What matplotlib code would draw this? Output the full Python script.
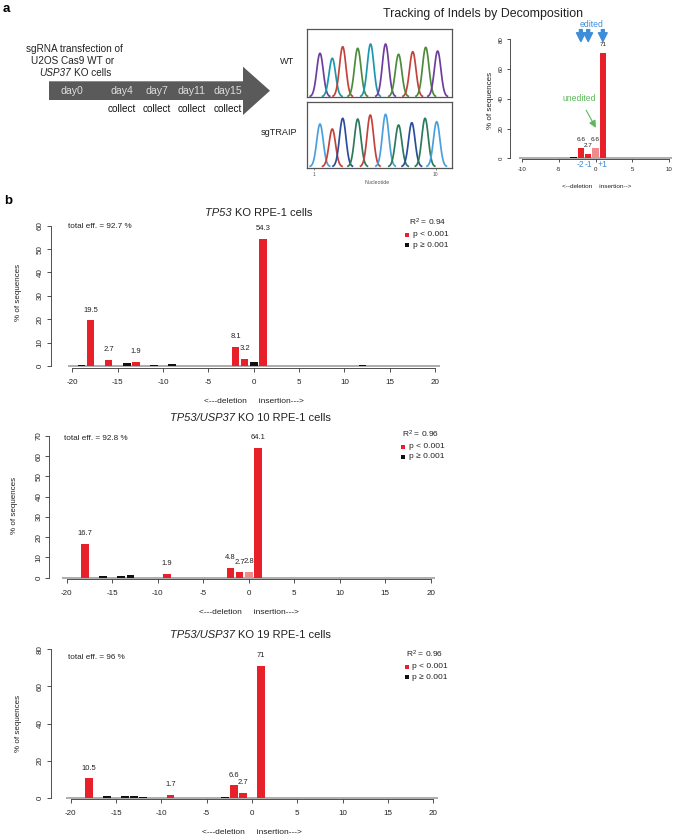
import numpy as np
import matplotlib
matplotlib.use("Agg")
import matplotlib.pyplot as plt
from matplotlib.patches import Polygon

plt.rcParams['font.family'] = ['Liberation Sans', 'DejaVu Sans']
plt.rcParams['mathtext.fontset'] = 'custom'
plt.rcParams['mathtext.rm'] = 'Liberation Sans'
plt.rcParams['mathtext.it'] = 'Liberation Sans:italic'
plt.rcParams['axes.unicode_minus'] = False

# ---------------- data ----------------
# timeline
days = ["day0", "day4", "day7", "day11", "day15"]
collect_days = ["day4", "day7", "day11", "day15"]

# chromatogram peaks (nucleotide position, intensity, colour)
wt_pos = [1.44, 2.35, 3.12, 4.23, 5.18, 6.29, 7.25, 8.30, 9.26, 10.14]
wt_int = [43.4, 38.4, 50.0, 48.4, 52.7, 52.7, 42.4, 45.0, 49.4, 45.7]
wt_col = ["purple", "teal", "red", "green", "teal", "purple", "green", "red", "green", "purple"]
sg_pos = [1.44, 2.35, 3.12, 4.23, 5.16, 6.29, 7.25, 8.23, 9.21, 10.07]
sg_int = [42.7, 37.7, 48.4, 47.7, 51.7, 52.4, 41.7, 44.0, 48.4, 45.0]
sg_col = ["lblue", "red", "dblue", "dgreen", "red", "lblue", "dgreen", "dblue", "dgreen", "lblue"]

# TIDE example (panel a)
a_indel = [-9, -3, -2, -1, 0, 1]
a_pct = [0.3, 0.8, 6.6, 2.7, 6.6, 71]
a_sig = ["sig", "ns", "sig", "sig", "wt", "sig"]
a_edited = [-2, -1, 1]
a_edited_lbl = ["-2", "-1", "+1"]

# panel b
b_titles = [("TP53", "KO RPE-1 cells"),
            ("TP53/USP37", "KO 10 RPE-1 cells"),
            ("TP53/USP37", "KO 19 RPE-1 cells")]
b_eff = ["total eff. = 92.7 %", "total eff. = 92.8 %", "total eff. = 96 %"]
b_r2 = ["0.94", "0.96", "0.96"]

b1_indel = [-19, -18, -16, -14, -13, -11, -9, -2, -1, 0, 1, 12]
b1_pct = [0.4, 19.5, 2.7, 1.1, 1.9, 0.5, 1.0, 8.1, 3.2, 1.5, 54.3, 0.3]
b1_sig = ["ns", "sig", "sig", "ns", "sig", "ns", "ns", "sig", "sig", "ns", "sig", "ns"]

b2_indel = [-18, -16, -14, -13, -9, -2, -1, 0, 1]
b2_pct = [16.7, 0.8, 0.6, 1.2, 1.9, 4.8, 2.7, 2.8, 64.1]
b2_sig = ["sig", "ns", "ns", "ns", "sig", "sig", "sig", "wt", "sig"]

b3_indel = [-18, -16, -14, -13, -12, -9, -3, -2, -1, 1]
b3_pct = [10.5, 1.1, 1.0, 0.7, 0.3, 1.7, 0.5, 6.6, 2.7, 71]
b3_sig = ["sig", "ns", "ns", "ns", "ns", "sig", "ns", "sig", "sig", "sig"]

b_yticks = [list(range(0, 61, 10)), list(range(0, 71, 10)), list(range(0, 81, 20))]

# ---------------- styles ----------------
W, H = 673, 839
RED = "#E8202A"
PINK = "#F08A8C"
BLACK = "#111111"
GREY = "#A0A0A0"
BAR_COL = {"sig": RED, "ns": BLACK, "wt": PINK}
PEAK_COL = {"purple": "#6E3E9E", "teal": "#1C98AE", "red": "#C4423C", "green": "#4D8B3C",
            "lblue": "#4AA0DE", "dblue": "#2C4D9C", "dgreen": "#2B7A5C"}
BLUE = "#3D8ED8"
GREEN = "#5DB85B"
TXT = "#222222"

fig = plt.figure(figsize=(W / 100, H / 100), dpi=100)
ov = fig.add_axes([0, 0, 1, 1])
ov.set_xlim(0, W)
ov.set_ylim(H, 0)
ov.axis("off")
renderer = fig.canvas.get_renderer()


def add_axes_px(x0, y0, x1, y1):
    return fig.add_axes([x0 / W, 1 - y1 / H, (x1 - x0) / W, (y1 - y0) / H])


def data_axes(xd, xp, yd, yp, xlim, ylim):
    sx = (xp[1] - xp[0]) / (xd[1] - xd[0])
    sy = (yp[1] - yp[0]) / (yd[1] - yd[0])
    left = xp[0] + (xlim[0] - xd[0]) * sx
    right = xp[0] + (xlim[1] - xd[0]) * sx
    bottom = yp[0] + (ylim[0] - yd[0]) * sy
    top = yp[0] + (ylim[1] - yd[0]) * sy
    ax = add_axes_px(left, top, right, bottom)
    ax.set_xlim(xlim)
    ax.set_ylim(ylim)
    ax.patch.set_alpha(0)
    return ax


def mixed_text(xc, y, ital, rest, fontsize):
    """Italic part followed by upright part, centred on xc (pixel coords)."""
    t1 = ov.text(0, y, ital, fontsize=fontsize, style="italic", ha="left", va="center", color=TXT)
    t2 = ov.text(0, y, rest, fontsize=fontsize, ha="left", va="center", color=TXT)
    w1 = t1.get_window_extent(renderer).width
    w2 = t2.get_window_extent(renderer).width
    gap = fontsize * 0.278 * 100 / 72
    x0 = xc - (w1 + gap + w2) / 2
    t1.set_x(x0)
    t2.set_x(x0 + w1 + gap)


def indel_plot(ax, xr, indel, pct, sig, yt, ticksize, labsize, laboff, width=0.85):
    allpos = np.arange(xr[0], xr[1] + 1)
    ax.bar(allpos, np.zeros(len(allpos)), width=1.0, color=GREY, edgecolor=GREY,
           linewidth=1.2, zorder=1)
    ax.bar(indel, pct, width=width, color=[BAR_COL[s] for s in sig], linewidth=0, zorder=2)
    for x, v, s in zip(indel, pct, sig):
        if s != "ns" and v >= 1:
            ax.annotate(f"{v:g}", (x, v), xytext=(0, laboff), textcoords="offset points",
                        ha="center", va="center", fontsize=labsize, color=TXT)
    for s in ["top", "right"]:
        ax.spines[s].set_visible(False)
    for s in ["left", "bottom"]:
        ax.spines[s].set_linewidth(0.6)
        ax.spines[s].set_color("#333333")
    ax.spines["left"].set_bounds(yt[0], yt[-1])
    ax.spines["bottom"].set_bounds(xr[0], xr[1])
    xt = list(range(xr[0], xr[1] + 1, 5))
    ax.set_xticks(xt)
    ax.set_xticklabels([str(v) for v in xt])
    ax.set_yticks(yt)
    ax.set_yticklabels([str(v) for v in yt])
    ax.tick_params(axis="both", labelsize=ticksize, length=3, width=0.6, colors="#333333",
                   labelcolor=TXT)
    ax.tick_params(axis="x", pad=5)
    ax.tick_params(axis="y", labelrotation=90, pad=2)
    for lab in ax.get_yticklabels():
        lab.set_va("center")


# ---------------- panel a : timeline ----------------
ov.text(3, 9, "a", fontsize=9.5, fontweight="bold", ha="left", va="center")
arrow = Polygon([(49, 81.3), (243, 81.3), (243, 66.7), (270, 90.7), (243, 115), (243, 100),
                 (49, 100)], closed=True, facecolor="#5A5A5A", edgecolor="none")
ov.add_patch(arrow)
day_x = [71.7, 121.7, 156.7, 191.7, 227.7]
for d, x in zip(days, day_x):
    ov.text(x, 90.5, d, fontsize=7.6, color="#DDDDDD", ha="center", va="center")
    if d in collect_days:
        ov.text(x, 109, "collect", fontsize=7.2, color="#111111", ha="center", va="center")
ov.text(74.7, 49, "sgRNA transfection of", fontsize=7.2, ha="center", va="center", color=TXT)
ov.text(72.5, 61.5, "U2OS Cas9 WT or", fontsize=7.2, ha="center", va="center", color=TXT)
mixed_text(75.5, 73, "USP37", "KO cells", 7.2)

ov.text(287, 62, "WT", fontsize=6.6, ha="center", va="center", color=TXT)
ov.text(279, 132.5, "sgTRAIP", fontsize=6.6, ha="center", va="center", color=TXT)


# chromatograms
def chromatogram(box, ylim, pos, inten, cols, show_ticks):
    ax = add_axes_px(*box)
    ax.set_xlim(0.48, 11.18)
    ax.set_ylim(*ylim)
    for p, h, c in zip(pos, inten, cols):
        xx = np.linspace(p - 0.72, p + 0.72, 80)
        ax.plot(xx, h * np.exp(-0.5 * ((xx - p) / 0.24) ** 2), color=PEAK_COL[c], lw=1.25)
    for s in ax.spines.values():
        s.set_linewidth(0.9)
        s.set_color("#555555")
    ax.set_yticks([])
    if show_ticks:
        ax.set_xticks([1, 10])
        ax.set_xticklabels(["1", "10"])
        ax.tick_params(axis="x", labelsize=3.6, length=1.5, width=0.5, pad=1.5, colors="#555555")
    else:
        ax.set_xticks([])
    return ax


chromatogram((307, 29.3, 451.7, 97.3), (-0.6, 67.4), wt_pos, wt_int, wt_col, False)
chromatogram((307, 101.7, 451.7, 167.7), (-1.0, 65.0), sg_pos, sg_int, sg_col, True)
ov.text(377, 182.7, "Nucleotide", fontsize=3.8, ha="center", va="center", color="#555555")

# TIDE example
ax_a = data_axes((-10, 10), (522.3, 668.7), (0, 80), (158.3, 39.3), (-11.7, 10.5), (-0.6, 82))
indel_plot(ax_a, (-10, 10), a_indel, a_pct, a_sig, [0, 20, 40, 60, 80], 4.4, 4.6, 6.2)
ax_a.tick_params(axis="x", pad=3, length=2.5)
ax_a.tick_params(axis="y", length=2.5, pad=2)
ov.text(482.7, 14, "Tracking of Indels by Decomposition", fontsize=8.9, ha="center", va="center",
        color=TXT)
ov.text(490, 100, "% of sequences", fontsize=5.8, rotation=90, ha="center", va="center",
        color=TXT)
ov.text(597, 186, "<--deletion    insertion-->", fontsize=4.6, ha="center", va="center",
        color=TXT)
for x, lbl in zip(a_edited, a_edited_lbl):
    ax_a.annotate("", xy=(x, 78.5), xytext=(x, 86.5), annotation_clip=False,
                  arrowprops=dict(arrowstyle="simple,head_width=0.9,head_length=0.9,tail_width=0.3",
                                  color=BLUE, mutation_scale=7, shrinkA=0, shrinkB=0))
    ax_a.annotate(lbl, (x, 0), xytext=(0, -4.2), textcoords="offset points", ha="center",
                  va="center", fontsize=6.2, color=BLUE, annotation_clip=False)
ax_a.annotate("edited", (-0.6, 90), ha="center", va="center", fontsize=6.2, color=BLUE,
              annotation_clip=False)
ax_a.annotate("unedited", xy=(0.05, 20.5), xytext=(-2.2, 40.5), ha="center", va="center",
              fontsize=6.2, color=GREEN, annotation_clip=False,
              arrowprops=dict(arrowstyle="-|>,head_width=0.35,head_length=0.7", color=GREEN,
                              lw=0.8, shrinkA=4, shrinkB=0, mutation_scale=6))

# ---------------- panel b ----------------
ov.text(4, 200.7, "b", fontsize=9.5, fontweight="bold", ha="left", va="center")

b_data = [(b1_indel, b1_pct, b1_sig), (b2_indel, b2_pct, b2_sig), (b3_indel, b3_pct, b3_sig)]
# axis calibration (data -> pixel) for each chart
b_xcal = [(72.3, 435.1), (66.7, 430.7), (70.7, 433.3)]
b_ycal = [((0, 60), (366, 225.7)), ((0, 70), (577.7, 436)), ((0, 80), (797.7, 649.3))]
b_xlim = [(-22.4, 21), (-21.9, 21), (-22.2, 21)]
b_ylim = [(-0.7, 62), (-0.8, 72), (-0.9, 82)]
# text positions (pixels)
b_title_xy = [(258.4, 213), (250, 418.3), (250, 635)]
b_eff_xy = [(68.5, 226), (63.5, 438.3), (67.8, 657.7)]
b_r2_xy = [(428, 222.7), (420.2, 434), (424.5, 654.3)]
b_leg_x = [(407, 413), (403.4, 408.6), (406.9, 412)]
b_leg_y = [(235, 245.3), (446.7, 456.7), (666.7, 677.3)]
b_ylab_xy = [(19, 292), (14, 505), (19, 723)]
b_xlab_y = [401.7, 612.7, 832.3]

for i in range(3):
    indel, pct, sig = b_data[i]
    ax = data_axes((-20, 20), b_xcal[i], b_ycal[i][0], b_ycal[i][1], b_xlim[i], b_ylim[i])
    indel_plot(ax, (-20, 20), indel, pct, sig, b_yticks[i], 5.8, 5.5, 7.3)
    mixed_text(b_title_xy[i][0], b_title_xy[i][1], b_titles[i][0], b_titles[i][1], 8.0)
    ov.text(*b_eff_xy[i], b_eff[i], fontsize=5.9, ha="left", va="center", color=TXT)
    ov.text(*b_r2_xy[i], "R$^2$ = " + b_r2[i], fontsize=6.0, ha="center", va="center",
            color=TXT)
    sq_x, tx_x = b_leg_x[i]
    for yy, col, txt in zip(b_leg_y[i], [RED, BLACK], ["p < 0.001", "p \u2265 0.001"]):
        ov.scatter([sq_x], [yy], marker="s", s=5, color=col, linewidths=0)
        ov.text(tx_x, yy, txt, fontsize=6.0, ha="left", va="center", color=TXT)
    ov.text(*b_ylab_xy[i], "% of sequences", fontsize=5.8, rotation=90, ha="center",
            va="center", color=TXT)
    x0 = b_xcal[i][0] + 20 * (b_xcal[i][1] - b_xcal[i][0]) / 40
    ov.text(x0, b_xlab_y[i], "<---deletion     insertion--->", fontsize=6.0, ha="center",
            va="center", color=TXT)

fig.savefig("out.png", dpi=100)
